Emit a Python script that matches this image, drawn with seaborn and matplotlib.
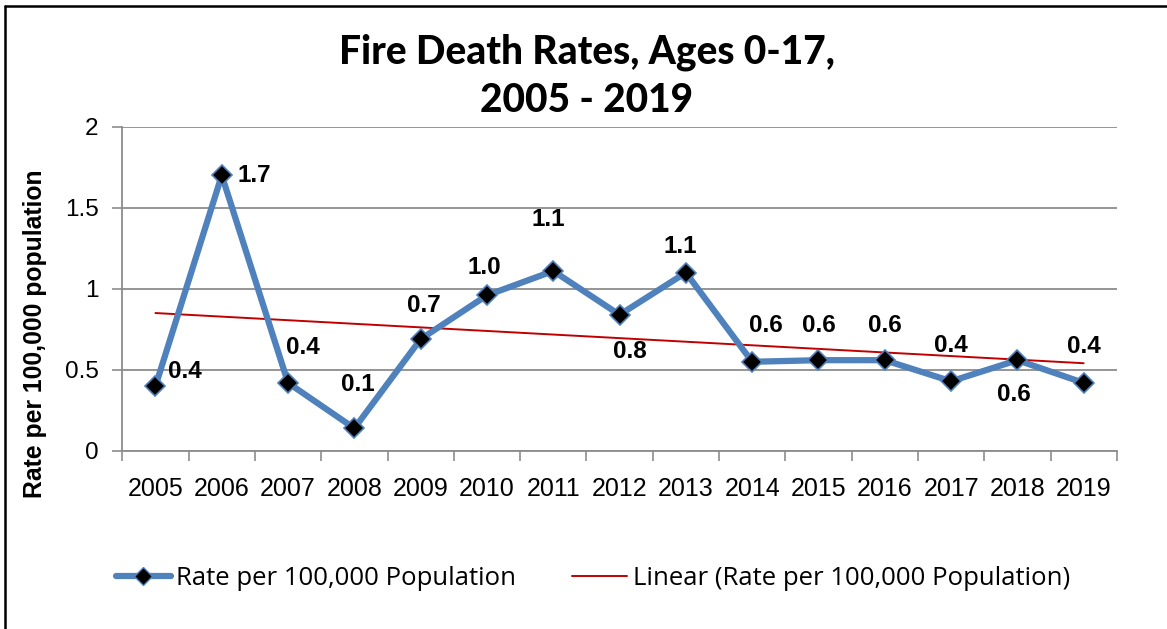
import matplotlib
matplotlib.use("Agg")
import matplotlib.pyplot as plt
from matplotlib.lines import Line2D
import numpy as np
import pandas as pd
import seaborn as sns

years = ["2005", "2006", "2007", "2008", "2009", "2010", "2011", "2012",
         "2013", "2014", "2015", "2016", "2017", "2018", "2019"]
rates = [0.40, 1.70, 0.42, 0.14, 0.69, 0.96, 1.11, 0.84,
         1.10, 0.55, 0.56, 0.56, 0.43, 0.56, 0.42]
labels = ["0.4", "1.7", "0.4", "0.1", "0.7", "1.0", "1.1", "0.8",
          "1.1", "0.6", "0.6", "0.6", "0.4", "0.6", "0.4"]
yticks = [0, 0.5, 1, 1.5, 2]
yticklabels = ["0", "0.5", "1", "1.5", "2"]

# label offsets in pixels (style)
offsets = [(29, 15), (33, 0), (15, 35), (3, 44), (3, 34), (-3, 28), (-5, 51),
           (10, -37), (-6, 26), (14, 36), (0, 35), (0, 35), (0, 36), (-3, -34), (0, 36)]

df = pd.DataFrame({"idx": np.arange(len(years)), "year": years, "rate": rates})

sns.set_theme(style="white")
plt.rcParams['font.family'] = ['Liberation Sans', 'DejaVu Sans']
plt.rcParams['text.color'] = 'black'
plt.rcParams['axes.labelcolor'] = 'black'
plt.rcParams['xtick.color'] = 'black'
plt.rcParams['ytick.color'] = 'black'

BLUE = "#4F81BD"
RED = "#C00000"
GRID = "#8C8C8C"

fig = plt.figure(figsize=(11.67, 6.29), dpi=100)
ax = fig.add_axes([0.1048, 0.283, 0.957 - 0.1048, 0.7986 - 0.283])

sns.regplot(data=df, x="idx", y="rate", ax=ax, scatter=False, ci=None,
            truncate=True, line_kws=dict(color=RED, lw=1.4, zorder=3))
sns.lineplot(data=df, x="idx", y="rate", ax=ax, color=BLUE, lw=4.5,
             marker="D", markersize=10.5, markerfacecolor="black",
             markeredgecolor=BLUE, markeredgewidth=1.2, zorder=4)

px = 72 / 100.0
for i, (v, lab) in enumerate(zip(rates, labels)):
    dx, dy = offsets[i]
    ax.annotate(lab, (i, v), xytext=(dx * px, dy * px), textcoords="offset points",
                ha="center", va="center", fontsize=17.5, fontweight="bold",
                color="black", zorder=5)

ax.set_xlim(-0.5, len(years) - 0.5)
ax.set_ylim(0, 2)
ax.set_yticks(yticks)
ax.set_yticklabels(yticklabels, fontsize=17.5)
ax.set_xticks(np.arange(-0.5, len(years), 1.0))
ax.set_xticklabels([])
ax.set_xticks(np.arange(len(years)), minor=True)
ax.set_xticklabels(years, minor=True, fontsize=18)
ax.tick_params(axis="x", which="major", direction="out", length=7, width=1.2,
               color=GRID, bottom=True)
ax.tick_params(axis="x", which="minor", length=0, pad=19, labelcolor="black")
ax.tick_params(axis="y", direction="out", length=7, width=1.2, color=GRID,
               left=True, pad=10, labelcolor="black")
ax.grid(False)
ax.yaxis.grid(True, color=GRID, lw=1.3)
for s in ["top", "right"]:
    ax.spines[s].set_visible(False)
for s in ["left", "bottom"]:
    ax.spines[s].set_color(GRID)
    ax.spines[s].set_linewidth(1.3)
ax.set_xlabel("")
ax.set_ylabel("Rate per 100,000 population", fontsize=17.8, fontweight="bold",
              color="black")
ax.yaxis.set_label_coords(-0.076, 0.36)

title_font = dict(fontsize=28, fontweight=900, family=["Lato", "DejaVu Sans"],
                  color="black")
fig.text(0.503, 0.917, "Fire Death Rates, Ages 0-17,", ha="center", va="center",
         **title_font)
fig.text(0.503, 0.840, "2005 - 2019", ha="center", va="center", **title_font)

handles = [
    Line2D([0], [0], color=BLUE, lw=4.5, marker="D", markersize=9.5,
           markerfacecolor="black", markeredgecolor=BLUE),
    Line2D([0], [0], color=RED, lw=1.4),
]
leg = fig.legend(handles, ["Rate per 100,000 Population",
                           "Linear (Rate per 100,000 Population)"],
                 loc="center", bbox_to_anchor=(0.508, 0.081), ncol=2, frameon=False,
                 handlelength=2.14, handletextpad=0.2, columnspacing=2.2,
                 borderpad=0, borderaxespad=0, labelcolor="black",
                 prop=dict(family=["Open Sans", "DejaVu Sans"], size=18.5))

# figure border (left and top edges visible)
fig.add_artist(Line2D([5 / 1167, 5 / 1167], [0, 1 - 6 / 629], color="black", lw=1.8,
                      transform=fig.transFigure))
fig.add_artist(Line2D([5 / 1167, 1], [1 - 6 / 629, 1 - 6 / 629], color="black", lw=1.8,
                      transform=fig.transFigure))

fig.savefig("out.png", dpi=100, facecolor="white")
